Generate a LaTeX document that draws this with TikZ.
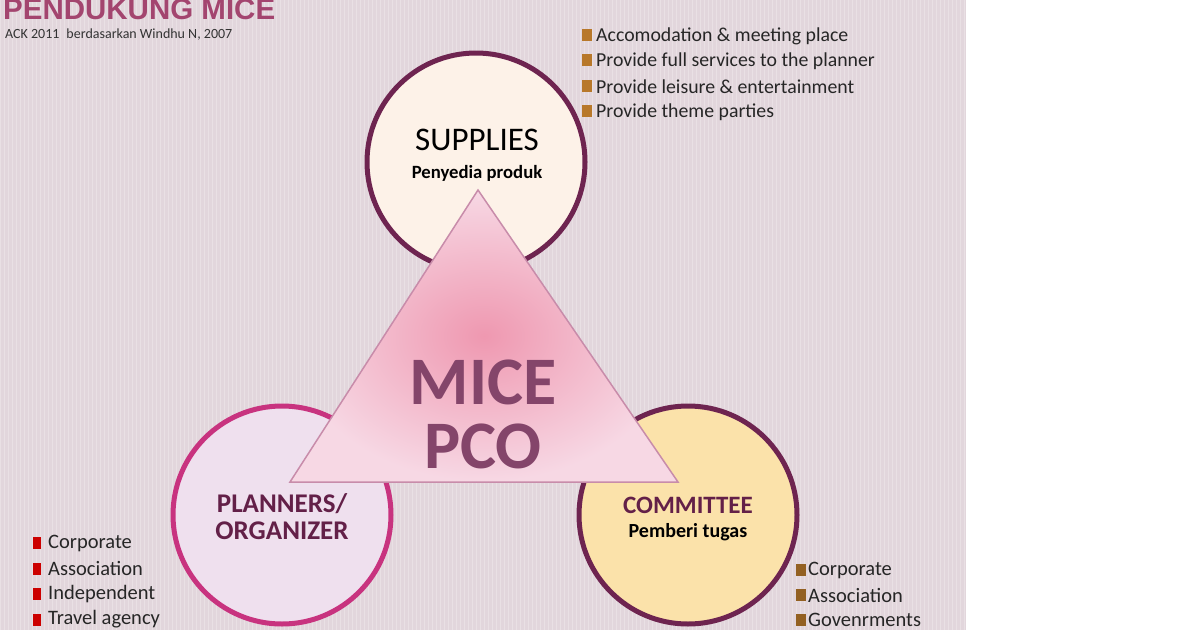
\documentclass[tikz,border=0pt]{standalone}
\usepackage{fontspec}
\setmainfont{Carlito}
\newfontfamily\arialf{Liberation Sans}
\begin{document}
\begin{tikzpicture}[x=1pt,y=-1pt,
  circ/.style={circle,minimum size=218pt,line width=5pt,inner sep=0pt},
  blt/.style={anchor=west,font=\fontsize{19.8}{20}\selectfont,text=black!85,inner sep=0pt},
  blt2/.style={blt,font=\fontsize{20.5}{20}\selectfont},
]
\definecolor{bg}{HTML}{E2D6DC}
\definecolor{ttl}{HTML}{A3456F}
\definecolor{dpur}{HTML}{6E2450}
\definecolor{ppink}{HTML}{C8337F}
\definecolor{tri}{HTML}{EDA9C4}
\definecolor{brown}{HTML}{B8782A}
\useasboundingbox (0,0) rectangle (1200,630);
\fill[white] (0,0) rectangle (1200,630);
\fill[bg] (0,0) rectangle (966,630);
\foreach \i in {0,4,...,964} \draw[white,opacity=0.25,line width=0.8pt] (\i,0)--(\i,630);
\node[anchor=base west,inner sep=0pt,font=\arialf\bfseries\fontsize{29.5}{29}\selectfont,text=ttl] (title) at (3,19) {PENDUKUNG MICE};
\node[anchor=west,inner sep=0pt,font=\fontsize{14}{14}\selectfont,text=black!80] (ack) at (5,35) {ACK 2011\enspace berdasarkan Windhu N, 2007};
% circles
\node[circ,draw=dpur,fill={rgb,255:red,253;green,242;blue,232}] (sup) at (476,162) {};
\node[circ,draw=ppink,fill={rgb,255:red,239;green,224;blue,238}] (pla) at (282,515) {};
\node[circ,draw=dpur,fill={rgb,255:red,251;green,226;blue,170}] (com) at (688,515) {};
% triangle
\coordinate (ta) at (478,190);
\coordinate (tl) at (290,482);
\coordinate (tr) at (678,482);
\shade[inner color=tri!90!red,outer color=tri!45!white] (ta)--(tl)--(tr)--cycle;
\draw[line width=1.5pt,draw={rgb,255:red,200;green,140;blue,170}] (ta)--(tl)--(tr)--cycle;
\node[font=\fontsize{68}{68}\selectfont\bfseries,text=dpur!85] (mice) at (483,382) {MICE};
\node[font=\fontsize{68}{68}\selectfont\bfseries,text=dpur!85] (pco) at (483,446) {PCO};
% labels
\node[font=\fontsize{33}{33}\selectfont] (supt) at (477,140) {SUPPLIES};
\node[font=\fontsize{18.7}{19}\selectfont\bfseries] (sups) at (477,173) {Penyedia produk};
\node[font=\fontsize{27}{27}\selectfont\bfseries,align=center,text=dpur!90!black] (plat) at (282,517) {PLANNERS/\\ORGANIZER};
\node[font=\fontsize{25}{25}\selectfont\bfseries,text=dpur!90!black] (comt) at (688,505) {COMMITTEE};
\node[font=\fontsize{20}{20}\selectfont\bfseries] (coms) at (688,532) {Pemberi tugas};
% bullets
\foreach \t [count=\k] in {Accomodation \& meeting place,Provide full services to the planner,Provide leisure \& entertainment,Provide theme parties}{
  \fill[brown] (582,{29+(\k-1)*25.3}) rectangle ++(10,12);
  \node[blt] (b\k) at (596,{36+(\k-1)*25.3}) {\t};
}
\foreach \t [count=\k] in {Corporate,Association,Independent,Travel agency}{
  \fill[red!80!black] (33,{537+(\k-1)*25.5}) rectangle ++(8,12);
  \node[blt2] (p\k) at (48,{543+(\k-1)*25.5}) {\t};
}
\foreach \t [count=\k] in {Corporate,Association,Govenrments}{
  \fill[brown!80!black] (796,{564+(\k-1)*25}) rectangle ++(10,12);
  \node[blt2] (c\k) at (808,{570+(\k-1)*25}) {\t};
}
\end{tikzpicture}
\end{document}
